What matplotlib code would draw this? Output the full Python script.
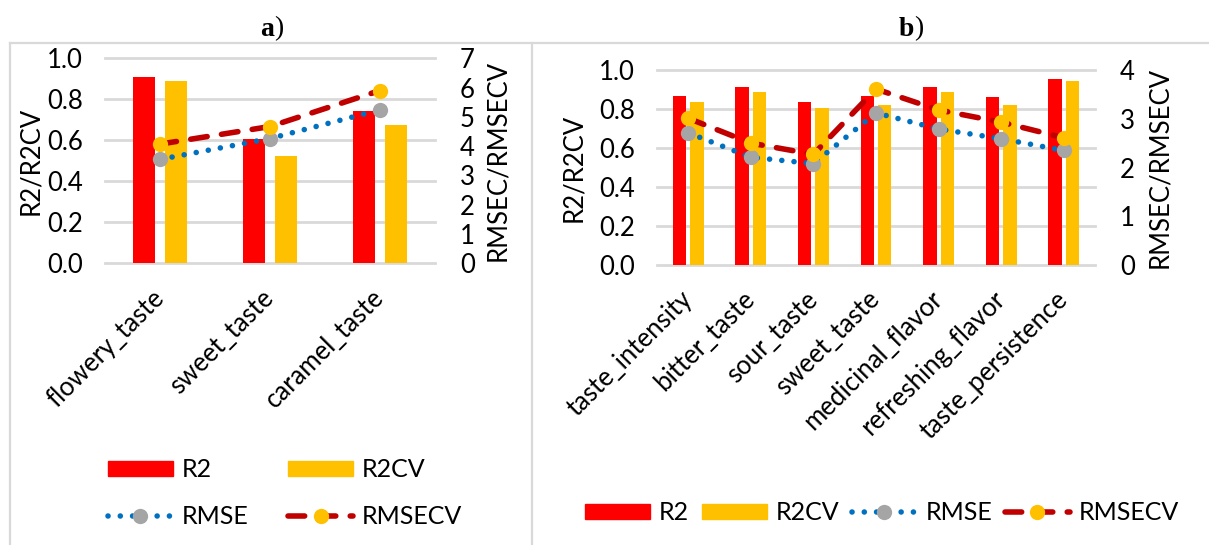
import numpy as np
import matplotlib.pyplot as plt
from matplotlib.lines import Line2D
from matplotlib.patches import Patch

# panel a) data
cats_a = ["flowery_taste", "sweet_taste", "caramel_taste"]
r2_a = [0.910, 0.606, 0.744]
r2cv_a = [0.887, 0.524, 0.674]
rmse_a = [3.55, 4.26, 5.24]
rmsecv_a = [4.07, 4.67, 5.90]

# panel b) data
cats_b = ["taste_intensity", "bitter_taste", "sour_taste", "sweet_taste",
          "medicinal_flavor", "refreshing_flavor", "taste_persistence"]
r2_b = [0.869, 0.915, 0.835, 0.869, 0.915, 0.862, 0.954]
r2cv_b = [0.835, 0.889, 0.804, 0.823, 0.889, 0.823, 0.942]
rmse_b = [2.71, 2.21, 2.08, 3.12, 2.79, 2.59, 2.35]
rmsecv_b = [3.01, 2.50, 2.27, 3.61, 3.18, 2.93, 2.61]

RED = "#FF0000"
GOLD = "#FFC000"
GREY = "#A5A5A5"
BLUE = "#0070C0"
DARKRED = "#C00000"
GRID = "#D9D9D9"

plt.rcParams['font.family'] = ['Lato', 'DejaVu Sans']
FS = 18.5

W, H = 1209, 545
fig = plt.figure(figsize=(W / 100, H / 100), dpi=100)


def box(left, top, width, height):
    return [left / W, 1 - (top + height) / H, width / W, height / H]


def series_style(kind):
    if kind == "rmse":
        return dict(color=BLUE, lw=4, ls=(0, (0.01, 2.2)), dash_capstyle='round',
                    marker='o', ms=11, mfc=GREY, mec=GREY, mew=0)
    return dict(color=DARKRED, lw=4, ls=(0, (3.0, 2.6)), dash_capstyle='round',
                marker='o', ms=11, mfc=GOLD, mec=GOLD, mew=0)


def panel(rect, cats, r2, r2cv, rmse, rmsecv, rmax, bw, off, ylab_x, y2lab_x):
    ax = fig.add_axes(rect)
    x = np.arange(len(cats))
    ax.bar(x - off, r2, width=bw, color=RED, zorder=2)
    ax.bar(x + off, r2cv, width=bw, color=GOLD, zorder=2)
    ax.set_xlim(-0.5, len(cats) - 0.5)
    ax.set_ylim(0, 1.0)
    ticks = np.arange(0, 1.01, 0.2)
    ax.set_yticks(ticks)
    ax.set_yticklabels([f"{v:.1f}" for v in ticks])
    ax.grid(axis='y', color=GRID, lw=2)
    for gl in ax.get_ygridlines():
        gl.set_clip_on(False)
    ax.set_axisbelow(True)
    for s in ax.spines.values():
        s.set_visible(False)
    ax.tick_params(axis='y', length=0, pad=16, labelsize=FS)
    ax.set_xticks(x)
    ax.set_xticklabels(cats, rotation=45, ha='right', va='center',
                       rotation_mode='anchor', fontsize=FS)
    ax.tick_params(axis='x', length=0, pad=22)
    ax.set_ylabel("R2/R2CV", fontsize=FS)
    ax.yaxis.set_label_coords(ylab_x, 0.5)
    ax.yaxis.label.set_va('center')

    tw = ax.twinx()
    tw.plot(x, rmse, **series_style("rmse"))
    tw.plot(x, rmsecv, **series_style("rmsecv"))
    tw.set_ylim(0, rmax)
    tw.set_yticks(range(rmax + 1))
    for s in tw.spines.values():
        s.set_visible(False)
    tw.tick_params(axis='y', length=0, pad=18, labelsize=FS)
    tw.set_ylabel("RMSEC/RMSECV", fontsize=FS)
    tw.yaxis.set_label_coords(y2lab_x, 0.5)
    tw.yaxis.label.set_va('center')
    return ax, tw


panel(box(105, 58.3, 330, 205), cats_a, r2_a, r2cv_a, rmse_a, rmsecv_a, 7,
      0.195, 0.145, (31 - 105) / 330, (498 - 105) / 330)
panel(box(657, 70, 438, 195), cats_b, r2_b, r2cv_b, rmse_b, rmsecv_b, 4,
      0.215, 0.14, (574 - 657) / 438, (1160 - 657) / 438)

# legend handles
h_r2 = Patch(color=RED, label="R2")
h_r2cv = Patch(color=GOLD, label="R2CV")
h_rmse = Line2D([], [], label="RMSE", **series_style("rmse"))
h_rmsecv = Line2D([], [], label="RMSECV", **series_style("rmsecv"))

leg_kw = dict(frameon=False, fontsize=18, handlelength=2.6, handleheight=0.52,
              handletextpad=0.35, numpoints=1, loc='center')
fig.legend(handles=[h_r2, h_rmse, h_r2cv, h_rmsecv], ncol=2,
           bbox_to_anchor=(285 / W, 1 - 493 / H),
           columnspacing=1.6, labelspacing=0.95, **leg_kw)
fig.legend(handles=[h_r2, h_r2cv, h_rmse, h_rmsecv], ncol=4,
           bbox_to_anchor=(882 / W, 1 - 513 / H),
           columnspacing=0.5, **leg_kw)

# panel frames
frame = dict(color=GRID, lw=1.6, transform=fig.transFigure, clip_on=False)
fig.add_artist(Line2D([10 / W, 10 / W], [0, 1 - 43 / H], **frame))
fig.add_artist(Line2D([10 / W, 1], [1 - 43 / H, 1 - 43 / H], **frame))
fig.add_artist(Line2D([532 / W, 532 / W], [0, 1 - 43 / H], **frame))

# panel titles
for cx, letter in [(274, "a"), (914, "b")]:
    fig.text(cx / W, 1 - 29 / H, letter, ha='right', va='center',
             fontsize=20, fontweight='bold', family='Liberation Serif')
    fig.text(cx / W, 1 - 29 / H, ")", ha='left', va='center',
             fontsize=20, family='Liberation Serif')

fig.savefig("out.png", dpi=100)
